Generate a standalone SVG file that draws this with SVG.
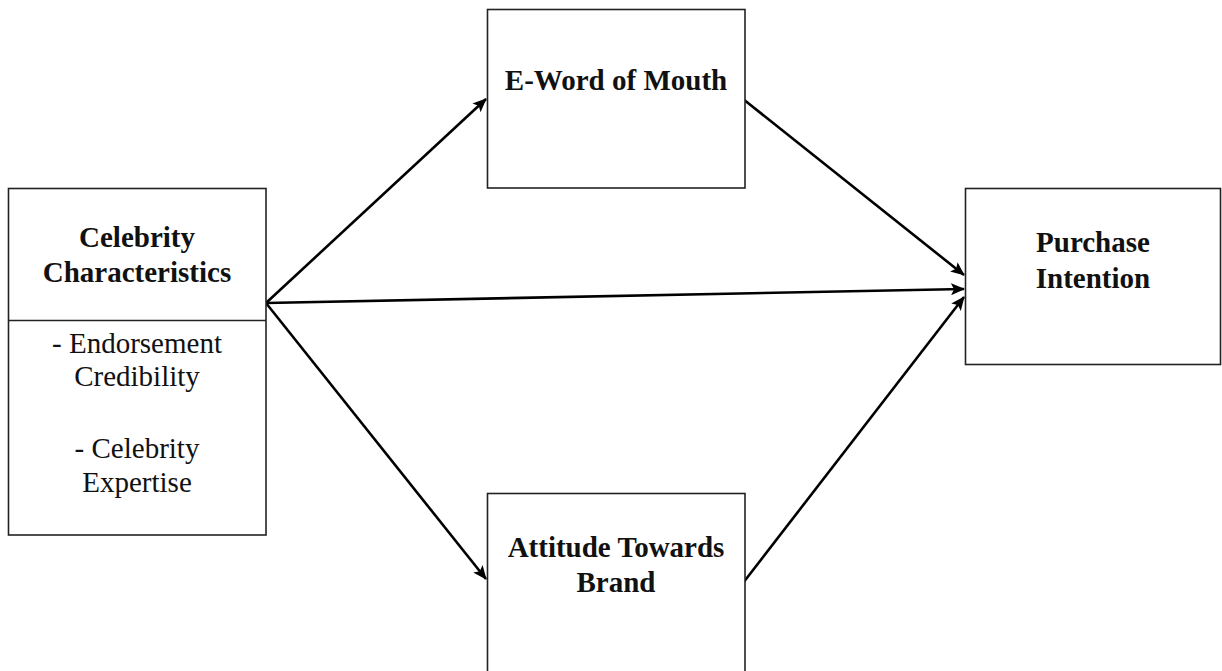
<svg xmlns="http://www.w3.org/2000/svg" width="1222" height="671" viewBox="0 0 1222 671">
<style>
.box{fill:#fff;stroke:#222;stroke-width:1.6}
.t{font-family:"Liberation Serif","Times New Roman",serif;font-size:29px;fill:#111;text-anchor:middle}
.b{font-weight:bold}
.c{stroke:#000;stroke-width:2.6;fill:none;marker-end:url(#ah)}
</style>
<defs>
<marker id="ah" markerUnits="userSpaceOnUse" markerWidth="14" markerHeight="12" viewBox="0 0 14 12" refX="13" refY="6" orient="auto">
<path d="M0,0 L14,6 L0,12 L3,6 Z" fill="#000"/>
</marker>
</defs>
<rect width="1222" height="671" fill="#fff"/>
<g id="connectors">
<line class="c" x1="266" y1="303" x2="486" y2="99"/>
<line class="c" x1="743" y1="99" x2="964" y2="275"/>
<line class="c" x1="266" y1="303" x2="964" y2="289"/>
<line class="c" x1="266" y1="303" x2="486" y2="579"/>
<line class="c" x1="743" y1="583" x2="964" y2="297"/>
</g>
<g id="celebrity">
<rect class="box" x="8.5" y="188.5" width="257.5" height="346.5"/>
<line x1="8.5" y1="320.5" x2="266" y2="320.5" stroke="#222" stroke-width="1.6"/>
<text class="t b" x="137" y="247">Celebrity</text>
<text class="t b" x="137" y="282">Characteristics</text>
<text class="t" x="137" y="353">- Endorsement</text>
<text class="t" x="137" y="386">Credibility</text>
<text class="t" x="137" y="458">- Celebrity</text>
<text class="t" x="137" y="492">Expertise</text>
</g>
<g id="ewom">
<rect class="box" x="487.5" y="9.5" width="257.5" height="178.5"/>
<text class="t b" x="616" y="90">E-Word of Mouth</text>
</g>
<g id="attitude">
<rect class="box" x="487.5" y="493.5" width="257.5" height="180"/>
<text class="t b" x="616" y="557">Attitude Towards</text>
<text class="t b" x="616" y="592">Brand</text>
</g>
<g id="purchase">
<rect class="box" x="965.5" y="188.5" width="255" height="176"/>
<text class="t b" x="1093" y="252">Purchase</text>
<text class="t b" x="1093" y="288">Intention</text>
</g>
</svg>
